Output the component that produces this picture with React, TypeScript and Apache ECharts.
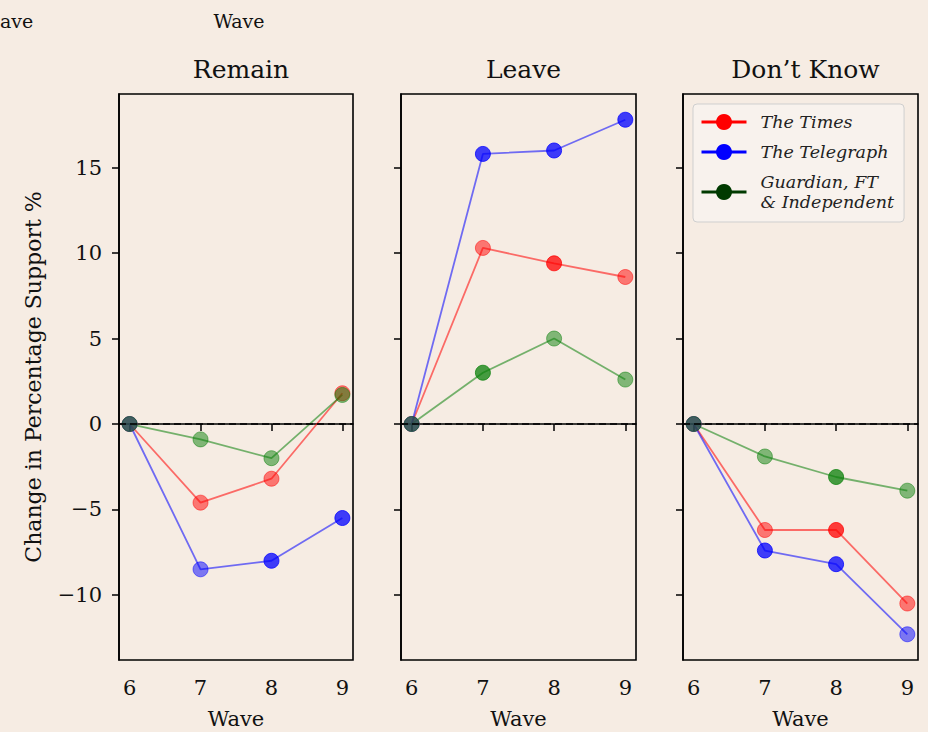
import React, { useEffect, useRef } from "react";
import * as echarts from "echarts";

const waves = [6, 7, 8, 9];
const yTicks = [-10, -5, 0, 5, 10, 15];
const panelTitles = ["Remain", "Leave", "Don’t Know"];
const seriesNames = ["The Times", "The Telegraph", "Guardian, FT\n& Independent"];

const remainTimes = [0, -4.6, -3.2, 1.8];
const remainTelegraph = [0, -8.5, -8.0, -5.5];
const remainGuardian = [0, -0.9, -2.0, 1.7];

const leaveTimes = [0, 10.3, 9.4, 8.6];
const leaveTelegraph = [0, 15.8, 16.0, 17.8];
const leaveGuardian = [0, 3.0, 5.0, 2.6];

const dkTimes = [0, -6.2, -6.2, -10.5];
const dkTelegraph = [0, -7.4, -8.2, -12.3];
const dkGuardian = [0, -1.9, -3.1, -3.9];

const panels = [
  [remainTimes, remainTelegraph, remainGuardian],
  [leaveTimes, leaveTelegraph, leaveGuardian],
  [dkTimes, dkTelegraph, dkGuardian],
];

// indices of markers that appear more opaque in the original (per panel, per series)
const strongPoints = [
  [[], [2, 3], []],
  [[2], [1, 2, 3], [1]],
  [[2], [1, 2], [2]],
];

const lineColors = ["#ff0000", "#0000ff", "#0a800a"];
const legendColors = ["#ff0000", "#0000ff", "#003a00"];

const FONT = "'DejaVu Serif', serif";
const BG = "#f6ece3";

const gridBoxes = [
  { left: 119, top: 94, width: 234, height: 566 },
  { left: 401, top: 94, width: 235, height: 566 },
  { left: 683, top: 94, width: 235, height: 566 },
];

const fmt = (v: number) => (v < 0 ? "\u2212" + Math.abs(v) : String(v));

export default function App() {
  const ref = useRef<HTMLDivElement>(null);
  useEffect(() => {
    if (!ref.current) return;
    const chart = echarts.init(ref.current, null, { renderer: "svg" });

    const allVals = panels.flat(2);
    const yMinD = Math.min(...allVals);
    const yMaxD = Math.max(...allVals);
    const yPad = (yMaxD - yMinD) * 0.05;
    const xPad = (waves[waves.length - 1] - waves[0]) * 0.05;
    const xMin = waves[0] - xPad;
    const xMax = waves[waves.length - 1] + xPad;

    const grid = gridBoxes.map((g) => ({
      ...g,
      show: true,
      borderColor: "#000",
      borderWidth: 1.6,
      backgroundColor: "transparent",
      containLabel: false,
      outerBoundsMode: "none",
    }));

    const xAxis = gridBoxes.map((_, i) => ({
      type: "value",
      gridIndex: i,
      min: xMin,
      max: xMax,
      splitLine: { show: false },
      axisLine: { show: true, lineStyle: { color: "#000", width: 1.6 } },
      axisTick: { show: true, customValues: waves, length: 7, lineStyle: { color: "#000", width: 1.5 } },
      axisLabel: {
        show: true,
        customValues: waves,
        fontFamily: FONT,
        fontSize: 21,
        color: "#111",
        margin: 17,
        formatter: fmt,
      },
      name: "Wave",
      nameLocation: "middle",
      nameGap: 48,
      nameTextStyle: { fontFamily: FONT, fontSize: 21, color: "#111" },
    }));

    const yAxis = gridBoxes.map((_, i) => ({
      type: "value",
      gridIndex: i,
      min: yMinD - yPad,
      max: yMaxD + yPad,
      splitLine: { show: false },
      axisLine: { show: true, lineStyle: { color: "#000", width: 1.6 } },
      axisTick: { show: true, customValues: yTicks, length: 7, lineStyle: { color: "#000", width: 1.5 } },
      axisLabel: {
        show: i === 0,
        customValues: yTicks,
        fontFamily: FONT,
        fontSize: 21,
        color: "#111",
        margin: 17,
        formatter: fmt,
      },
      name: i === 0 ? "Change in Percentage Support %" : "",
      nameLocation: "middle",
      nameGap: 75,
      nameTextStyle: { fontFamily: FONT, fontSize: 22, color: "#111" },
    }));

    const series: any[] = [];
    panels.forEach((panel, p) => {
      series.push({
        type: "line",
        name: "zero-" + p,
        xAxisIndex: p,
        yAxisIndex: p,
        data: [],
        z: 1,
        silent: true,
        markLine: {
          silent: true,
          symbol: ["none", "none"],
          label: { show: false },
          lineStyle: { color: "#000", type: [7, 4], width: 1.5, opacity: 1 },
          data: [{ yAxis: 0 }],
        },
      });
      panel.forEach((vals, s) => {
        const c = lineColors[s];
        series.push({
          type: "line",
          name: seriesNames[s],
          xAxisIndex: p,
          yAxisIndex: p,
          z: 3,
          symbol: "circle",
          symbolSize: 15,
          lineStyle: { color: c, width: 1.8, opacity: 0.55 },
          itemStyle: { color: c, opacity: 0.5, borderColor: c, borderWidth: 1 },
          emphasis: { disabled: true },
          data: vals.map((v, i) => ({
            value: [waves[i], v],
            itemStyle: strongPoints[p][s].includes(i) ? { opacity: 0.75 } : undefined,
          })),
        });
      });
    });

    const titles = panelTitles.map((t, i) => ({
      text: t,
      left: gridBoxes[i].left + gridBoxes[i].width / 2,
      top: 52,
      textAlign: "center",
      textStyle: { fontFamily: FONT, fontSize: 25, fontWeight: "normal", color: "#111" },
    }));

    chart.setOption({
      animation: false,
      backgroundColor: BG,
      title: titles,
      grid,
      xAxis,
      yAxis,
      legend: {
        orient: "vertical",
        left: 693,
        top: 104,
        selectedMode: false,
        itemWidth: 45,
        itemHeight: 20,
        itemGap: 10,
        padding: [8, 10, 10, 7],
        backgroundColor: "rgba(249,244,239,0.8)",
        borderColor: "#cfcfcf",
        borderWidth: 1,
        borderRadius: 4,
        textStyle: {
          fontFamily: FONT,
          fontStyle: "italic",
          fontSize: 17.5,
          lineHeight: 20,
          color: "#222",
          padding: [0, 0, 0, 9],
        },
        data: seriesNames.map((n, i) => ({
          name: n,
          itemStyle: { color: legendColors[i], opacity: 1, borderWidth: 0 },
          lineStyle: { color: legendColors[i], opacity: 1, width: 3 },
        })),
      },
      graphic: [
        {
          type: "text",
          silent: true,
          x: 0,
          y: 21,
          style: { text: "ave", fontFamily: FONT, fontSize: 19, fill: "#111", align: "left", verticalAlign: "middle" },
        },
        {
          type: "text",
          silent: true,
          x: 239,
          y: 21,
          style: { text: "Wave", fontFamily: FONT, fontSize: 19, fill: "#111", align: "center", verticalAlign: "middle" },
        },
      ],
      series,
    });

    return () => chart.dispose();
  }, []);

  return (
    <div
      ref={ref}
      style={{ position: "fixed", left: 0, top: 0, width: 928, height: 732 }}
    />
  );
}
